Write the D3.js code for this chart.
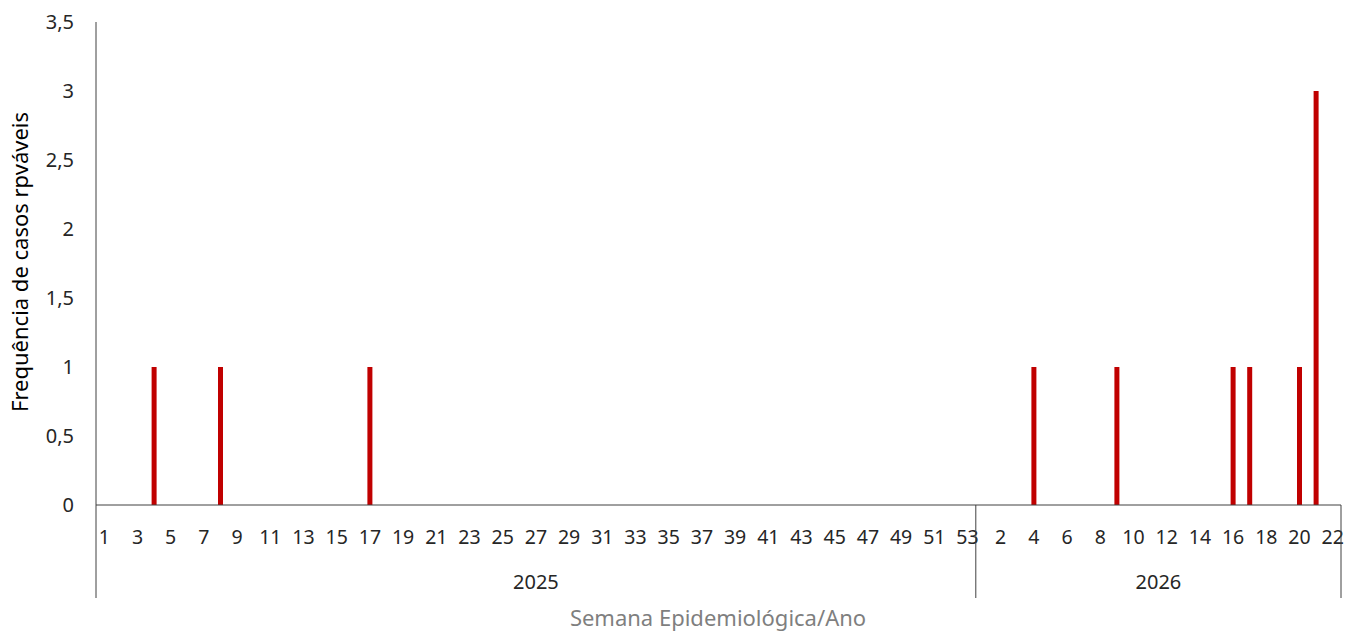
<!DOCTYPE html>
<html>
<head>
<meta charset="utf-8">
<script src="https://cdn.jsdelivr.net/npm/d3@7"></script>
<style>
	body { margin: 0; background: #fff; }
	text { font-family: "Noto Sans", sans-serif; }
</style>
</head>
<body>
<svg id="chart" width="1358" height="631"></svg>
<script>
// Data
const years = ['2025', '2026'];
const weeksPerYear = [53, 22];
// cases by [year, week]
const cases = [
	{ year: '2025', week: 4, value: 1 },
	{ year: '2025', week: 8, value: 1 },
	{ year: '2025', week: 17, value: 1 },
	{ year: '2026', week: 4, value: 1 },
	{ year: '2026', week: 9, value: 1 },
	{ year: '2026', week: 16, value: 1 },
	{ year: '2026', week: 17, value: 1 },
	{ year: '2026', week: 20, value: 1 },
	{ year: '2026', week: 21, value: 3 }
];
const yTicks = [0, 0.5, 1, 1.5, 2, 2.5, 3, 3.5];

const margins = { top: 22, right: 17, bottom: 126, left: 96 };
const W = 1358, H = 631;
const innerW = W - margins.left - margins.right;
const innerH = H - margins.top - margins.bottom;

const svg = d3.select('#chart');
const g = svg.append('g').attr('transform', `translate(${margins.left},${margins.top})`);

// categories = year|week
const categories = [];
years.forEach((y, i) => {
	d3.range(1, weeksPerYear[i] + 1).forEach(w => categories.push(`${y}|${w}`));
});

const x = d3.scaleBand().domain(categories).range([0, innerW]).padding(0);
const y = d3.scaleLinear().domain([0, 3.5]).range([innerH, 0]);
const fmt = d => String(d).replace('.', ',');
const axisColor = '#404040';

// Bars
const barW = 5;
g.selectAll('rect.bar').data(cases).join('rect')
	.attr('class', 'bar')
	.attr('x', d => x(`${d.year}|${d.week}`) + x.bandwidth() / 2 - barW / 2)
	.attr('y', d => y(d.value))
	.attr('width', barW)
	.attr('height', d => innerH - y(d.value))
	.attr('fill', '#c00000');

// Y axis
g.append('line')
	.attr('x1', 0).attr('x2', 0).attr('y1', 0).attr('y2', innerH)
	.attr('stroke', axisColor).attr('stroke-width', 1);
g.selectAll('text.ytick').data(yTicks).join('text')
	.attr('class', 'ytick')
	.attr('x', -22)
	.attr('y', d => y(d))
	.attr('dy', '0.35em')
	.attr('text-anchor', 'end')
	.style('font-size', '20px')
	.attr('fill', '#262626')
	.text(fmt);

// X axis line
g.append('line')
	.attr('x1', 0).attr('x2', innerW).attr('y1', innerH).attr('y2', innerH)
	.attr('stroke', axisColor).attr('stroke-width', 1);

// Week labels (every other one in each year)
const weekLabels = [];
years.forEach((yr, i) => {
	const start = i === 0 ? 1 : 2;
	for (let w = start; w <= weeksPerYear[i]; w += 2) weekLabels.push({ year: yr, week: w });
});
g.selectAll('text.week').data(weekLabels).join('text')
	.attr('class', 'week')
	.attr('x', d => x(`${d.year}|${d.week}`) + x.bandwidth() / 2)
	.attr('y', innerH + 32)
	.attr('dy', '0.35em')
	.attr('text-anchor', 'middle')
	.style('font-size', '19.5px')
	.attr('fill', '#262626')
	.text(d => d.week);

// Year group separators and labels
const groups = years.map((yr, i) => ({
	year: yr,
	x0: x(`${yr}|1`),
	x1: x(`${yr}|${weeksPerYear[i]}`) + x.bandwidth()
}));
const seps = [groups[0].x0, ...groups.map(d => d.x1)];
g.selectAll('line.sep').data(seps).join('line')
	.attr('class', 'sep')
	.attr('x1', d => d).attr('x2', d => d)
	.attr('y1', innerH).attr('y2', innerH + 93)
	.attr('stroke', axisColor).attr('stroke-width', 1);
g.selectAll('text.year').data(groups).join('text')
	.attr('class', 'year')
	.attr('x', d => (d.x0 + d.x1) / 2)
	.attr('y', innerH + 77)
	.attr('dy', '0.35em')
	.attr('text-anchor', 'middle')
	.style('font-size', '20px')
	.attr('fill', '#262626')
	.text(d => d.year);

// Axis titles
svg.append('text')
	.attr('x', 718)
	.attr('y', 618)
	.attr('dy', '0.35em')
	.attr('text-anchor', 'middle')
	.style('font-size', '22px')
	.attr('fill', '#7f7f7f')
	.text('Semana Epidemiológica/Ano');

svg.append('text')
	.attr('transform', 'translate(20,262) rotate(-90)')
	.attr('dy', '0.35em')
	.attr('text-anchor', 'middle')
	.style('font-size', '22px')
	.attr('fill', '#000')
	.text('Frequência de casos rpváveis');
</script>
</body>
</html>
